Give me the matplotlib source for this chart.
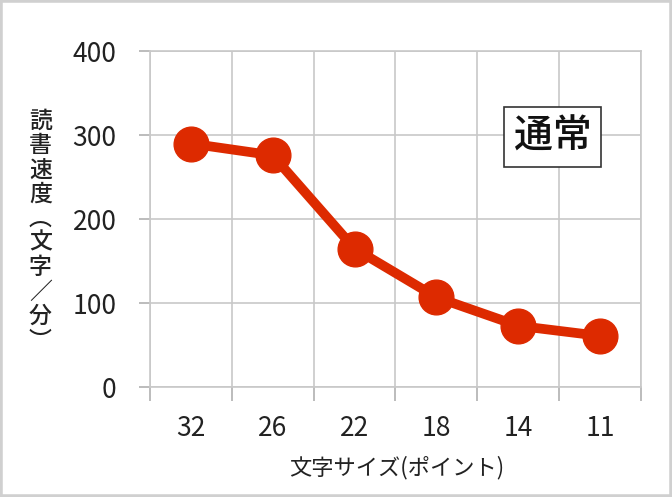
import matplotlib
matplotlib.use('Agg')
import matplotlib.pyplot as plt
from matplotlib.patches import Rectangle

plt.rcParams['font.family'] = ['Noto Sans CJK JP', 'DejaVu Sans']

# data
font_sizes = ['32', '26', '22', '18', '14', '11']
reading_speed = [290, 276, 165, 107, 73, 61]
y_ticks = [0, 100, 200, 300, 400]
x_label = '文字サイズ(ポイント)'
y_label_chars = ['読', '書', '速', '度', '︵', '文', '字', '／', '分', '︶']
legend_text = '通常'

fig = plt.figure(figsize=(6.72, 4.97), dpi=100)
ax = fig.add_axes([0.223, 0.221, 0.731, 0.676])

xs = list(range(len(font_sizes)))
ax.plot(xs, reading_speed, color='#dd2a00', linewidth=7, marker='o',
        markersize=25, solid_capstyle='round', zorder=3, clip_on=False)

ax.set_xlim(-0.5, len(font_sizes) - 0.5)
ax.set_ylim(0, 400)

# category boundaries carry the grid and tick marks, labels sit at centres
ax.set_xticks([i - 0.5 for i in range(len(font_sizes) + 1)])
ax.set_xticklabels([])
ax.set_xticks(xs, minor=True)
ax.set_xticklabels(font_sizes, minor=True)
ax.set_yticks(y_ticks)

ax.tick_params(axis='x', which='major', length=10, color='#b0b0b0', width=1.2)
ax.tick_params(axis='x', which='minor', length=0, labelsize=19, pad=20,
               labelcolor='#222222')
ax.tick_params(axis='y', length=8, color='#b0b0b0', width=1.2, labelsize=19,
               pad=16, labelcolor='#222222')

ax.grid(True, which='major', color='#c8c8c8', linewidth=1.2)
for s in ax.spines.values():
    s.set_color('#c8c8c8')
    s.set_linewidth(1.2)

fig.text(0.59, 0.06, x_label, ha='center', va='center', fontsize=16,
         color='#222222')
fig.text(0.06, 0.535, '\n'.join(y_label_chars), ha='center', va='center',
         fontsize=16.5, linespacing=1.08, fontweight='medium', color='#222222')

ax.text(0.82, 0.745, legend_text, transform=ax.transAxes, ha='center',
        va='center', fontsize=28, fontweight='medium', color='#111111',
        bbox=dict(boxstyle='square,pad=0.25', facecolor='white',
                  edgecolor='#333333', linewidth=1.2), zorder=5)

fig.patches.append(Rectangle((0, 0), 1, 1, transform=fig.transFigure,
                             fill=False, edgecolor='#d0d0d0', linewidth=4))

fig.savefig('out.png', dpi=100)
